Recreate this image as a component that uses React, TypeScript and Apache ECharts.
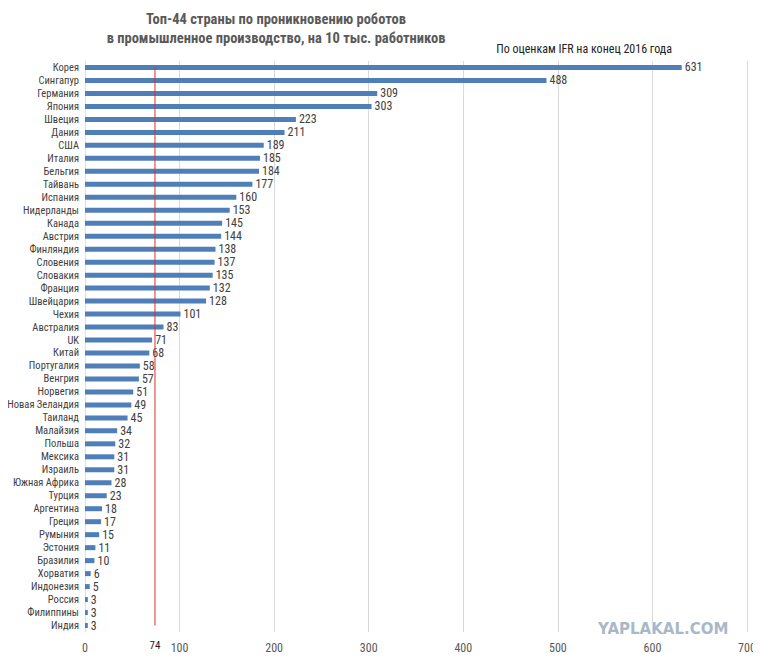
import React, { useEffect, useRef } from "react";
import * as echarts from "echarts";

const countries = ["Корея","Сингапур","Германия","Япония","Швеция","Дания","США","Италия","Бельгия","Тайвань","Испания","Нидерланды","Канада","Австрия","Финляндия","Словения","Словакия","Франция","Швейцария","Чехия","Австралия","UK","Китай","Португалия","Венгрия","Норвегия","Новая Зеландия","Таиланд","Малайзия","Польша","Мексика","Израиль","Южная Африка","Турция","Аргентина","Греция","Румыния","Эстония","Бразилия","Хорватия","Индонезия","Россия","Филиппины","Индия"];
const values = [631,488,309,303,223,211,189,185,184,177,160,153,145,144,138,137,135,132,128,101,83,71,68,58,57,51,49,45,34,32,31,31,28,23,18,17,15,11,10,6,5,3,3,3];
const average = 74;

const F = "'Liberation Sans Narrow', 'Roboto Condensed', Roboto, sans-serif";

export default function App() {
  const ref = useRef<HTMLDivElement>(null);
  useEffect(() => {
    const chart = echarts.init(ref.current!, null, { renderer: "svg" });
    chart.setOption({
      animation: false,
      textStyle: { fontFamily: F },
      graphic: [
        { type: "text", x: 268, y: 2, style: { text: "Топ-44 страны по проникновению роботов\nв промышленное производство, на 10 тыс. работников", align: "center", font: `bold 14.5px ${F}`, fill: "#595959", lineHeight: 19 } },
        { type: "text", x: 664, y: 35, style: { text: "По оценкам IFR на конец 2016 года", align: "right", font: `12px ${F}`, fill: "#222" } },
        { type: "text", x: 590, y: 613, style: { text: "YAPLAKAL.COM", font: "bold 15px 'DejaVu Sans', sans-serif", fill: "#a9b8c8" } },
      ],
      grid: { left: 77, right: 14, top: 53, height: 571, containLabel: false, outerBoundsMode: "none" },
      xAxis: { type: "value", min: 0, max: 700, interval: 100,
        axisLine: { show: false }, axisTick: { show: false },
        splitLine: { lineStyle: { color: "#d9d9d9" } },
        axisLabel: { fontFamily: F, fontSize: 12, color: "#595959", margin: 10 } },
      yAxis: { type: "category", data: countries, inverse: true,
        axisTick: { show: false }, axisLine: { lineStyle: { color: "#d9e1ea" } },
        axisLabel: { interval: 0, fontFamily: F, fontSize: 10.5, color: "#404040", margin: 6 } },
      series: [
        { type: "bar", data: values, barWidth: 5,
          itemStyle: { color: "#4f7fb8" },
          label: { show: true, position: "right", distance: 3, fontFamily: F, fontSize: 12, color: "#404040" } },
        { type: "line", silent: true, z: 5, symbol: "none", showSymbol: false,
          data: [[average, countries[0]], [average, countries[countries.length - 1]]],
          lineStyle: { color: "#d8312e", width: 1 }, itemStyle: { color: "#d8312e" },
          markPoint: { symbol: "rect", symbolSize: 1, itemStyle: { color: "rgba(0,0,0,0)" },
            label: { show: true, formatter: "74", position: "bottom", distance: 14, fontFamily: F, fontSize: 11, color: "#222" },
            data: [{ coord: [average, countries[countries.length - 1]] }] } },
      ],
    });
    return () => chart.dispose();
  }, []);
  return <div ref={ref} style={{ width: 753, height: 651 }} />;
}
